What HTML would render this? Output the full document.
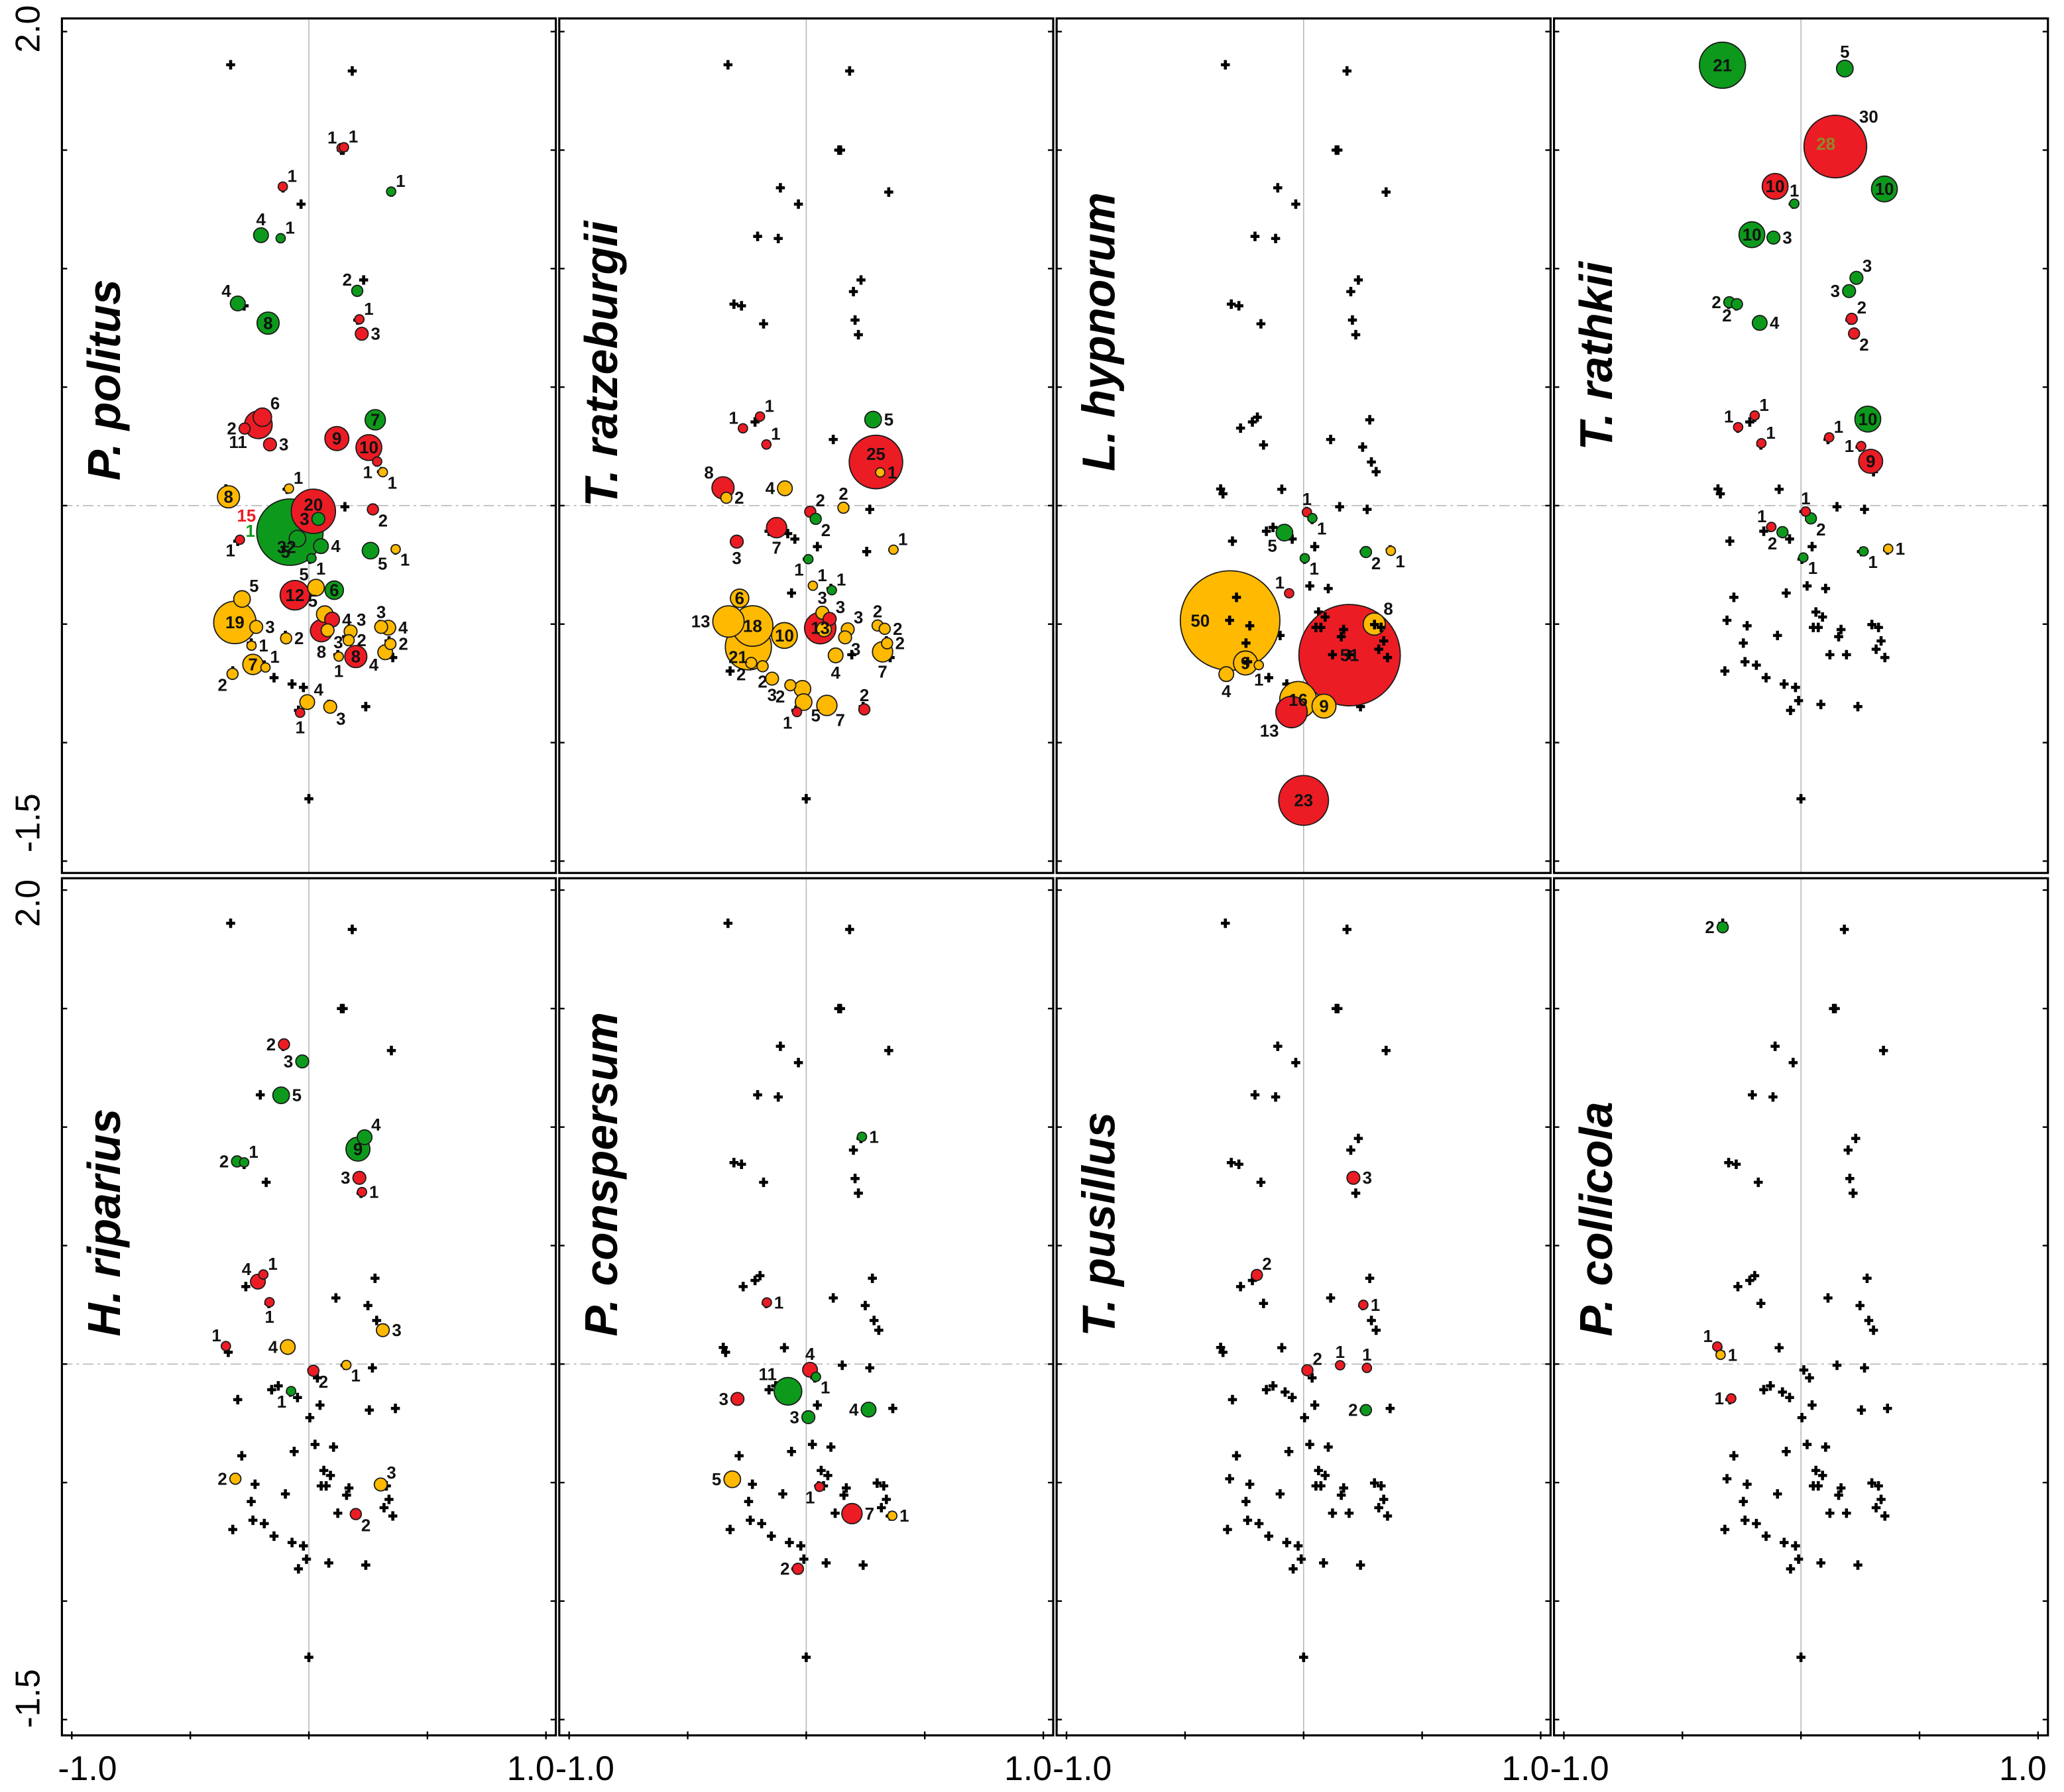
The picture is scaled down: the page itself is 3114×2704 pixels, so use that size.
<!DOCTYPE html>
<html>
<head>
<meta charset="utf-8">
<style>
html,body{margin:0;padding:0;background:#fff;}
svg{display:block;}
</style>
</head>
<body>
<svg id="chart" xmlns="http://www.w3.org/2000/svg" width="3114" height="2704" viewBox="0 0 1567 1361" preserveAspectRatio="none" font-family="'Liberation Sans', Arial, sans-serif">
<rect x="0" y="0" width="1567" height="1361" fill="#fff"/>
<g id="panels"></g>
<g id="axes"></g>
</svg>
<script>
// ---- data (ordination units) ----
const speciesNames = ["P. politus","T. ratzeburgii","L. hypnorum","T. rathkii","H. riparius","P. conspersum","T. pusillus","P. collicola"];
const xTickValues = [-1,-0.5,0,0.5,1];
const yTickValues = [2,1.5,1,0.5,0,-0.5,-1,-1.5];
const xTickLabels = ["-1.0","1.0"];
const yTickLabels = ["2.0","-1.5"];
// site scores (black crosses), shared by every panel
const siteU = [0.183,-0.33,0.137,0.145,-0.109,-0.033,0.348,-0.205,-0.118,0.231,0.199,-0.305,-0.273,-0.18,0.206,0.22,-0.195,-0.216,-0.266,-0.169,0.114,0.279,0.249,0.286,0.306,-0.092,0.152,0.268,0.012,0.036,-0.157,-0.129,-0.078,-0.048,0.047,0.004,0.255,0.365,-0.283,-0.062,0.026,0.104,-0.312,-0.227,-0.099,0.063,0.091,0.052,0.073,0.169,0.159,0.299,0.327,0.338,0.317,0.354,-0.243,0.122,0.192,-0.236,-0.188,-0.321,-0.147,-0.071,-0.023,-0.01,-0.044,0.084,0.24,0,-0.35,-0.34,-0.30];
const siteV = [1.834,1.86,1.50,1.50,1.341,1.272,1.323,1.136,1.127,0.952,0.903,0.85,0.843,0.767,0.783,0.721,0.373,0.353,0.327,0.256,0.279,0.362,0.247,0.184,0.143,0.069,-0.005,-0.016,-0.025,-0.058,-0.108,-0.092,-0.118,-0.141,-0.173,-0.226,-0.194,-0.187,-0.387,-0.369,-0.339,-0.35,-0.484,-0.507,-0.548,-0.449,-0.47,-0.514,-0.514,-0.523,-0.553,-0.502,-0.514,-0.571,-0.606,-0.641,-0.58,-0.629,-0.629,-0.659,-0.673,-0.698,-0.726,-0.753,-0.767,-0.823,-0.864,-0.839,-0.848,-1.237,0.07,0.05,-0.15];
// bubbles: [u, v, count, colour code, label anchor]
const bubblesPolitus = [[0.138,1.509,1,'r','nw'],[0.148,1.512,1,'r','ne'],[-0.11,1.346,1,'r','ne'],[0.347,1.325,1,'g','ne'],[-0.202,1.141,4,'g','n'],[-0.119,1.128,1,'g','ne'],[0.204,0.906,2,'g','nw'],[-0.3,0.853,4,'g','nw'],[-0.172,0.77,8,'g','c'],[0.213,0.786,1,'r','ne'],[0.223,0.725,3,'r','e'],[-0.213,0.341,11,'r','sw'],[-0.196,0.373,6,'r','ne'],[-0.271,0.325,2,'r','w'],[-0.164,0.258,3,'r','e'],[0.28,0.362,7,'g','c'],[0.118,0.283,9,'r','c'],[0.253,0.245,10,'r','c'],[0.288,0.186,1,'r','sw'],[0.312,0.141,1,'y','se'],[-0.084,0.072,1,'y','ne'],[-0.339,0.037,8,'y','c'],[0.27,-0.016,2,'r','se'],[-0.08,-0.112,32,'g','cs'],[0.019,-0.024,20,'r','cn'],[0.04,-0.056,3,'g','w'],[-0.048,-0.139,5,'g','sw'],[0.051,-0.171,4,'g','e'],[0.011,-0.222,1,'g','se'],[-0.291,-0.144,1,'r','sw'],[0.26,-0.19,5,'g','se'],[0.366,-0.184,1,'y','se'],[-0.059,-0.378,12,'r','c'],[0.03,-0.346,5,'y','nw'],[0.107,-0.357,6,'g','c'],[0.067,-0.458,5,'y','nw'],[0.098,-0.481,4,'r','e'],[0.053,-0.528,8,'r','s'],[0.079,-0.526,3,'y','se'],[-0.312,-0.493,19,'y','c'],[-0.282,-0.394,5,'y','ne'],[-0.222,-0.512,3,'y','e'],[-0.242,-0.591,1,'y','e'],[-0.236,-0.67,7,'y','c'],[-0.183,-0.683,1,'y','ne'],[-0.322,-0.71,2,'y','sw'],[-0.096,-0.56,2,'y','e'],[0.176,-0.531,3,'y','ne'],[0.168,-0.568,2,'y','e'],[0.198,-0.637,8,'r','c'],[0.126,-0.637,1,'y','s'],[0.305,-0.512,3,'y','n'],[0.335,-0.515,4,'y','e'],[0.344,-0.584,2,'y','e'],[0.322,-0.619,4,'y','sw'],[-0.007,-0.829,4,'y','ne'],[-0.037,-0.874,1,'r','s'],[0.09,-0.849,3,'y','se']];
const bubblesRatzeburgii = [[-0.267,0.326,1,'r','nw'],[-0.195,0.376,1,'r','ne'],[-0.168,0.258,1,'r','ne'],[0.282,0.363,5,'g','e'],[0.294,0.184,25,'r','cn'],[0.312,0.14,1,'y','e'],[-0.351,0.075,8,'r','nw'],[-0.337,0.033,2,'y','e'],[-0.09,0.073,4,'y','w'],[0.157,-0.009,2,'y','n'],[0.017,-0.026,2,'r','ne'],[0.04,-0.056,2,'g','se'],[-0.125,-0.093,7,'r','s'],[-0.293,-0.152,3,'r','s'],[0.009,-0.226,1,'g','sw'],[0.368,-0.186,1,'y','ne'],[0.028,-0.338,1,'y','ne'],[0.108,-0.357,1,'g','ne'],[-0.281,-0.391,6,'y','c'],[-0.328,-0.489,13,'y','w'],[-0.244,-0.596,21,'y','csw'],[-0.226,-0.508,18,'y','c'],[-0.092,-0.548,10,'y','c'],[-0.232,-0.664,2,'y','sw'],[-0.184,-0.678,2,'y','s'],[-0.144,-0.73,3,'y','s'],[-0.067,-0.758,2,'y','sw'],[-0.016,-0.773,5,'y',''],[-0.011,-0.829,5,'y','se'],[-0.039,-0.871,1,'r','sw'],[0.087,-0.843,7,'y','se'],[0.059,-0.517,13,'r','c'],[0.068,-0.452,3,'y','n'],[0.099,-0.478,3,'r','ne'],[0.075,-0.522,4,'y',''],[0.175,-0.522,3,'y','ne'],[0.164,-0.556,3,'y','se'],[0.124,-0.632,4,'y','s'],[0.301,-0.506,2,'y','n'],[0.331,-0.52,2,'y','e'],[0.322,-0.617,7,'y','s'],[0.341,-0.581,2,'y','e'],[0.245,-0.86,2,'r','n']];
const bubblesHypnorum = [[0.014,-0.028,1,'r','n'],[0.037,-0.053,1,'g','se'],[-0.081,-0.114,5,'g','sw'],[0.005,-0.222,1,'g','se'],[0.263,-0.196,2,'g','se'],[0.368,-0.191,1,'y','se'],[-0.061,-0.37,1,'r','nw'],[-0.31,-0.485,50,'y','cw'],[-0.245,-0.664,9,'y','c'],[-0.189,-0.673,1,'y','s'],[-0.326,-0.711,4,'y','s'],[0.194,-0.631,51,'r','c'],[0.298,-0.5,8,'y','ne'],[-0.051,-0.871,13,'r','sw'],[-0.023,-0.82,16,'y','c'],[0.086,-0.846,9,'y','c'],[0,-1.244,23,'r','c']];
const bubblesRathkii = [[-0.331,1.858,21,'g','c'],[0.185,1.844,5,'g','n'],[0.145,1.515,30,'r','ne'],[-0.109,1.347,10,'r','c'],[-0.028,1.274,1,'g','n'],[0.352,1.336,10,'g','c'],[-0.207,1.143,10,'g','c'],[-0.116,1.131,3,'g','e'],[0.234,0.961,3,'g','ne'],[0.203,0.905,3,'g','w'],[-0.302,0.858,2,'g','w'],[-0.27,0.85,2,'g','sw'],[-0.174,0.771,4,'g','e'],[0.214,0.788,2,'r','ne'],[0.224,0.726,2,'r','se'],[0.282,0.365,10,'g','c'],[-0.195,0.38,1,'r','ne'],[-0.265,0.331,1,'r','nw'],[-0.167,0.263,1,'r','ne'],[0.119,0.288,1,'r','ne'],[0.254,0.251,1,'r','w'],[0.294,0.187,9,'r','c'],[0.02,-0.025,1,'r','n'],[0.042,-0.054,2,'g','se'],[-0.125,-0.09,1,'r','nw'],[-0.078,-0.112,2,'g','sw'],[0.01,-0.219,1,'g','se'],[0.264,-0.193,1,'g','se'],[0.368,-0.182,1,'y','e']];
const bubblesRiparius = [[-0.105,1.349,2,'r','w'],[-0.028,1.277,3,'g','w'],[-0.117,1.134,5,'g','e'],[-0.303,0.855,2,'g','w'],[-0.273,0.851,1,'g','ne'],[0.207,0.907,9,'g','c'],[0.235,0.957,4,'g','ne'],[0.213,0.786,3,'r','w'],[0.224,0.726,1,'r','e'],[-0.215,0.348,4,'r','nw'],[-0.192,0.378,1,'r','ne'],[-0.166,0.261,1,'r','s'],[-0.35,0.076,1,'r','nw'],[-0.089,0.072,4,'y','w'],[0.312,0.143,3,'y','e'],[0.158,-0.004,1,'y','se'],[0.019,-0.028,2,'r','se'],[-0.075,-0.114,1,'g','sw'],[-0.31,-0.484,2,'y','w'],[0.303,-0.508,3,'y','ne'],[0.198,-0.633,2,'r','se']];
const bubblesConspersum = [[0.235,0.959,1,'g','e'],[-0.166,0.26,1,'r','e'],[0.016,-0.024,4,'r','n'],[0.041,-0.054,1,'g','se'],[-0.077,-0.115,11,'g','nw'],[-0.29,-0.147,3,'r','w'],[0.009,-0.224,3,'g','w'],[0.263,-0.192,4,'g','w'],[-0.312,-0.486,5,'y','w'],[0.056,-0.518,1,'r','sw'],[0.193,-0.631,7,'r','e'],[0.363,-0.64,1,'y','e'],[-0.035,-0.864,2,'r','w']];
const bubblesPusillus = [[0.21,0.786,3,'r','e'],[-0.197,0.376,2,'r','ne'],[0.252,0.25,1,'r','e'],[0.154,-0.005,1,'r','n'],[0.267,-0.016,1,'r','n'],[0.016,-0.026,2,'r','ne'],[0.263,-0.194,2,'g','w']];
const bubblesCollicola = [[-0.33,1.843,2,'g','w'],[-0.353,0.074,1,'r','nw'],[-0.339,0.039,1,'y','e'],[-0.294,-0.145,1,'r','w']];
// free-standing labels: [panel, u, v, text, colour code]
const freeLabels = [[0,-0.263,-0.043,"15",'r'],[0,-0.247,-0.107,"1",'g'],[3,0.105,1.526,"28",'o']];

// ---- styles / layout ----
const allBubbles = [bubblesPolitus,bubblesRatzeburgii,bubblesHypnorum,bubblesRathkii,bubblesRiparius,bubblesConspersum,bubblesPusillus,bubblesCollicola];
const fillOf = {r:'#ec1c24',g:'#0d9a1c',y:'#ffb900',o:'#8c8a2c'};
const textFillOf = {r:'#ec1c24',g:'#0d9a1c',y:'#111',o:'#8c8a2c'};
const titleStart = [365,385,358,342,1015,1015,1015,1015];
const NS = 'http://www.w3.org/2000/svg';
const S = 180; // px per unit
const panelW = 375, panelStep = 377.6, leftX = 47;
const rowTop = [14, 667], rowBottom = [663, 1318], rowZero = [384, 1036];
function panelLeft(col){ return leftX + col*panelStep; }
function xScale(col, u){ return panelLeft(col) + panelW/2 + u*S; }
function yScale(row, v){ return rowZero[row] - v*S; }
function radius(n){ return 2.8 + 0.7*n; }
function mk(tag, attrs, parent){ const e=document.createElementNS(NS,tag); for(const k in attrs) e.setAttribute(k,attrs[k]); parent.appendChild(e); return e; }

const panelsG = document.getElementById('panels');
const axesG = document.getElementById('axes');

for(let p=0;p<8;p++){
  const row = p<4?0:1, col = p%4;
  const g = mk('g',{},panelsG);
  
  
  const L = panelLeft(col), T=rowTop[row], B=rowBottom[row];
  const vl = mk('line',{x1:xScale(col,0),x2:xScale(col,0),y1:T,y2:B,stroke:'#b8b8b8','stroke-width':0.8},g);
  
  
  const hl = mk('line',{x1:L,x2:L+panelW,y1:yScale(row,0),y2:yScale(row,0),stroke:'#b8b8b8','stroke-width':0.8,'stroke-dasharray':'8 3 2 3'},g);
  
  
  const data = allBubbles[p].slice().sort((a,b)=>b[2]-a[2]);
  // crosses under bubbles
  const crossG = mk('g',{},g);
  const bubbleG = mk('g',{},g);
  const topCrossG = mk('g',{},g);
  const labelG = mk('g',{},g);
  for(let i=0;i<siteU.length;i++){
    const x=xScale(col,siteU[i]), y=yScale(row,siteV[i]);
    let overHuge=false;
    for(const d of data){
      if(d[2]<40) continue;
      const dx=x-xScale(col,d[0]), dy=y-yScale(row,d[1]);
      if(Math.sqrt(dx*dx+dy*dy)<radius(d[2])-2) overHuge=true;
    }
    const pl = mk('path',{d:`M${x-3.4},${y}H${x+3.4}M${x},${y-3.6}V${y+3.6}`,stroke:'#000','stroke-width':2.3},overHuge?topCrossG:crossG);
    
    
  }
  for(const d of data){
    const cx=xScale(col,d[0]), cy=yScale(row,d[1]), r=radius(d[2]);
    const c = mk('circle',{cx:cx,cy:cy,r:r,fill:fillOf[d[3]],stroke:'#1a1a1a','stroke-width':0.9},bubbleG);
    
    
    const a=d[4]; if(!a) continue;
    let x=cx,y=cy+4.5,anc='middle';
    const k=r*0.72+1;
    if(a==='c'){ y=cy+4.5; }
    else if(a==='cn'){ y=cy-r*0.3+4.5; }
    else if(a==='cs'){ y=cy+r*0.45+4.5; x=cx-r*0.1; }
    else if(a==='cw'){ x=cx-r*0.6; }
    else if(a==='csw'){ x=cx-r*0.45; y=cy+r*0.45+4.5; }
    else if(a==='n'){ y=cy-r-2; }
    else if(a==='s'){ y=cy+r+12; }
    else if(a==='e'){ x=cx+r+2; anc='start'; }
    else if(a==='w'){ x=cx-r-2; anc='end'; }
    else if(a==='ne'){ x=cx+k; y=cy-k; anc='start'; }
    else if(a==='nw'){ x=cx-k; y=cy-k; anc='end'; }
    else if(a==='se'){ x=cx+k; y=cy+k+9; anc='start'; }
    else if(a==='sw'){ x=cx-k; y=cy+k+9; anc='end'; }
    const t = mk('text',{x:x,y:y,'text-anchor':anc,'font-size':13,'font-weight':'bold',fill:'#111'},labelG);
    t.textContent = String(d[2]);
    
    
  }
  for(const f of freeLabels){ if(f[0]!==p) continue;
    const t = mk('text',{x:xScale(col,f[1]),y:yScale(row,f[2])+4.5,'text-anchor':'middle','font-size':13,'font-weight':'bold',fill:textFillOf[f[4]]},g);
    t.textContent=f[3];
    
    
  }
  const tx = L+44, ty = titleStart[p];
  const tt = mk('text',{x:tx,y:ty,transform:`rotate(-90 ${tx} ${ty})`,'font-size':35,'font-weight':'bold','font-style':'italic',fill:'#000'},g);
  tt.textContent = speciesNames[p];
  
  
  const fr = mk('rect',{x:L,y:T,width:panelW,height:B-T,fill:'none',stroke:'#000','stroke-width':1.6},g);
  
  
  for(const v of yTickValues){
    const y=yScale(row,v); if(y<T||y>B) continue;
    const t1 = mk('line',{x1:L,x2:L+4,y1:y,y2:y,stroke:'#000','stroke-width':1.2},g);
    
    
    const t2 = mk('line',{x1:L+panelW-4,x2:L+panelW,y1:y,y2:y,stroke:'#000','stroke-width':1.2},g);
    
    
  }
  if(row===1){
    for(const u of xTickValues){
      const x=xScale(col,u);
      const t = mk('line',{x1:x,x2:x,y1:B-3,y2:B+3,stroke:'#000','stroke-width':1.2},g);
      
      
    }
    const l1 = mk('text',{x:panelLeft(col)-3,y:1352,'text-anchor':'start','font-size':26,fill:'#000'},axesG);
    l1.textContent = xTickLabels[0];
    
    
    const l2 = mk('text',{x:panelLeft(col)+panelW-1,y:1352,'text-anchor':'end','font-size':26,fill:'#000'},axesG);
    l2.textContent = xTickLabels[1];
    
    
  }
}
for(let row=0;row<2;row++){
  const ys=[yScale(row,2)+ (row===0?-2:10), yScale(row,-1.5)+(row===0?-29:-16)];
  for(let i=0;i<2;i++){
    const x=30,y=ys[i];
    const t = mk('text',{x:x,y:y,transform:`rotate(-90 ${x} ${y})`,'text-anchor':'middle','font-size':26,fill:'#000'},axesG);
    t.textContent = yTickLabels[i];
    
    
  }
}
</script>
</body>
</html>
